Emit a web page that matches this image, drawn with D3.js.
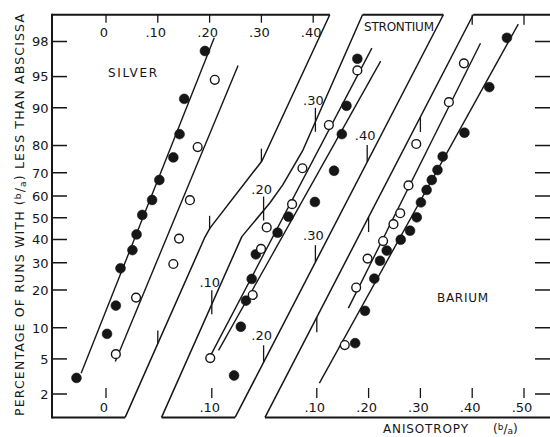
<!DOCTYPE html>
<html>
<head>
<meta charset="utf-8">
<script src="https://cdn.jsdelivr.net/npm/d3@7"></script>
<style>
  body { margin: 0; background: #fff; }
  text { font-family: "DejaVu Sans", sans-serif; fill: #161616; }
</style>
</head>
<body>
<div id="chart"></div>
<script>
var svgWidth = 550;
var svgHeight = 437;

// Percentage ticks on the probability axis
var yTicks = [2, 5, 10, 20, 30, 40, 50, 60, 70, 80, 90, 95, 98];

// Axis ticks (b/a) for each panel
var silverTopTicks = [0, 0.1, 0.2, 0.3, 0.4];
var silverBottomTicks = [0];
var srBottomTicks = [0.1];
var baBottomTicks = [0.1, 0.2, 0.3, 0.4, 0.5];
var baTopTicks = [0.4, 0.5];
var silverEdgeTicks = [0.1, 0.2, 0.3];
var srLeftTicks = [0.1, 0.2, 0.3];
var srRightTicks = [0.2, 0.3, 0.4];
var baLeftTicks = [0.1, 0.2, 0.3];

// Runs: [b/a, cumulative percent]
var silverFilled = [[-0.057, 3.1], [0.002, 8.8], [0.019, 15.3], [0.028, 27.8], [0.051, 35.3],
  [0.059, 42.3], [0.070, 51.3], [0.089, 58.2], [0.103, 67.0], [0.130, 75.9],
  [0.142, 83.5], [0.151, 91.7], [0.191, 97.4]];
var silverOpen = [[0.019, 5.6], [0.058, 17.6], [0.130, 29.5], [0.141, 40.4],
  [0.162, 58.1], [0.177, 79.5], [0.210, 94.6]];
var srFilled = [[0.143, 3.3], [0.156, 10.2], [0.166, 16.7], [0.177, 23.8], [0.185, 33.5],
  [0.227, 43.1], [0.248, 50.5], [0.299, 57.3], [0.336, 70.8], [0.351, 83.5],
  [0.360, 90.4], [0.381, 96.8]];
var srOpen = [[0.097, 5.1], [0.179, 18.4], [0.195, 35.8], [0.206, 45.5],
  [0.255, 56.3], [0.275, 71.8], [0.326, 86.0], [0.381, 95.7]];
var baFilled = [[0.174, 7.2], [0.193, 13.9], [0.211, 23.9], [0.222, 30.8], [0.235, 35.1],
  [0.262, 39.9], [0.280, 44.0], [0.293, 50.2], [0.301, 57.1], [0.312, 62.7],
  [0.322, 67.0], [0.333, 71.1], [0.343, 76.2], [0.385, 83.9], [0.433, 93.6], [0.467, 98.2]];
var baOpen = [[0.154, 6.9], [0.176, 20.8], [0.198, 31.7], [0.228, 39.3], [0.248, 47.0],
  [0.261, 52.1], [0.277, 64.7], [0.292, 80.5], [0.355, 91.1], [0.384, 96.4]];

// Fitted lines
var silverFilledFit = [[-0.048, 3.5], [0.209, 98.2]];
var silverOpenFit = [[0.018, 4.7], [0.255, 96.2]];
var srFilledFit = [[0.113, 6.1], [0.426, 96.6]];
var srOpenFit = [[0.095, 5.1], [0.409, 97.6]];
var baFilledFit = [[0.105, 2.7], [0.489, 98.8]];
var baOpenFit = [[0.161, 14.6], [0.416, 97.9]];

// Slanted panel edges
var silverEdge = [[0.432, 99.1], [0.301, 74.6], [0.201, 45.3], [0.191, 41.1], [0.037, 1.0]];
var srLeftEdge = [[0.391, 99.1], [0.276, 78.5], [0.237, 64.9], [0.212, 56.8], [0.158, 41.3], [0.003, 1.0]];
var srRightEdge = [[0.547, 99.1], [0.145, 1.0]];
var baLeftEdge = [[0.402, 99.1], [0.0, 1.0]];

var pTop = 99.1;
var pBottom = 1.0;
var axisX = 52;
var rightX = 551;
var ink = "#161616";

var svg = d3.select("#chart")
  .append("svg")
  .attr("width", svgWidth)
  .attr("height", svgHeight);

// inverse normal (Acklam)
function probit(p) {
  var a = [-3.969683028665376e+01, 2.209460984245205e+02, -2.759285104469687e+02, 1.383577518672690e+02, -3.066479806614716e+01, 2.506628277459239e+00];
  var b = [-5.447609879822406e+01, 1.615858368580409e+02, -1.556989798598866e+02, 6.680131188771972e+01, -1.328068155288572e+01];
  var c = [-7.784894002430293e-03, -3.223964580411365e-01, -2.400758277161838e+00, -2.549671348243250e+00, 4.374664141464968e+00, 2.938163982698783e+00];
  var d = [7.784695709041462e-03, 3.224671290700398e-01, 2.445134137142996e+00, 3.754408661907416e+00];
  var q, r;
  if (p < 0.02425) {
    q = Math.sqrt(-2 * Math.log(p));
    return (((((c[0] * q + c[1]) * q + c[2]) * q + c[3]) * q + c[4]) * q + c[5]) / ((((d[0] * q + d[1]) * q + d[2]) * q + d[3]) * q + 1);
  }
  if (p > 1 - 0.02425) {
    q = Math.sqrt(-2 * Math.log(1 - p));
    return -(((((c[0] * q + c[1]) * q + c[2]) * q + c[3]) * q + c[4]) * q + c[5]) / ((((d[0] * q + d[1]) * q + d[2]) * q + d[3]) * q + 1);
  }
  q = p - 0.5;
  r = q * q;
  return (((((a[0] * r + a[1]) * r + a[2]) * r + a[3]) * r + a[4]) * r + a[5]) * q / (((((b[0] * r + b[1]) * r + b[2]) * r + b[3]) * r + b[4]) * r + 1);
}

// Scales
var yZ = d3.scaleLinear().domain([probit(0.02), probit(0.98)]).range([394, 41.5]);
var y = function (p) { return yZ(probit(p / 100)); };
var xAg = d3.scaleLinear().domain([0, 0.4]).range([106, 313.2]);
var xSr = d3.scaleLinear().domain([0, 0.4]).range([160, 367.2]);
var xBa = d3.scaleLinear().domain([0, 0.5]).range([265, 524]);

var fmt = function (d) { return d === 0 ? "0" : d3.format(".2f")(d).replace(/^0/, ""); };

function seg(x1, y1, x2, y2, w) {
  svg.append("line")
    .attr("x1", x1).attr("y1", y1).attr("x2", x2).attr("y2", y2)
    .attr("stroke", ink).attr("stroke-width", w || 1.3);
}

function lineOf(xs) {
  return d3.line().x(d => xs(d[0])).y(d => y(d[1]));
}

function drawPath(data, xs, w) {
  svg.append("path")
    .datum(data)
    .attr("d", lineOf(xs))
    .attr("fill", "none")
    .attr("stroke", ink)
    .attr("stroke-width", w)
    .attr("stroke-linejoin", "round");
}

function yAt(pts, px) {
  for (var i = 0; i < pts.length - 1; i++) {
    var a = pts[i], b = pts[i + 1];
    if ((px - a[0]) * (px - b[0]) <= 0) {
      return a[1] + (b[1] - a[1]) * (px - a[0]) / (b[0] - a[0]);
    }
  }
  return null;
}

// ticks sitting on a slanted edge
function edgeTicks(edge, xs, values, up, down, labelGap) {
  var pts = edge.map(d => [xs(d[0]), y(d[1])]);
  values.forEach(function (v) {
    var px = xs(v), py = yAt(pts, px);
    seg(px, py - up, px, py + down, 1.3);
    if (labelGap != null) {
      svg.append("text")
        .attr("x", px - 2)
        .attr("y", py - labelGap)
        .attr("text-anchor", "middle")
        .style("font-size", "13px")
        .text(fmt(v));
    }
  });
}

// Frame: left axis, tops and bottoms
seg(axisX, y(pTop) - 1, axisX, y(pBottom) + 1, 2);
seg(axisX, y(pTop), xAg(silverEdge[0][0]), y(pTop), 2);
seg(xSr(srLeftEdge[0][0]), y(pTop), xSr(srRightEdge[0][0]), y(pTop), 2);
seg(xBa(baLeftEdge[0][0]), y(pTop), rightX, y(pTop), 2);
seg(axisX, y(pBottom), xAg(silverEdge[4][0]), y(pBottom), 2);
seg(xSr(srLeftEdge[5][0]), y(pBottom), xSr(srRightEdge[1][0]), y(pBottom), 2);
seg(xBa(baLeftEdge[1][0]), y(pBottom), rightX, y(pBottom), 2);

drawPath(silverEdge, xAg, 1.5);
drawPath(srLeftEdge, xSr, 1.5);
drawPath(srRightEdge, xSr, 1.5);
drawPath(baLeftEdge, xBa, 1.5);

// Probability axis, left and right
yTicks.forEach(function (p) {
  seg(axisX, y(p), axisX + 15, y(p), 1.5);
  seg(rightX - 16, y(p), rightX, y(p), 1.5);
  svg.append("text")
    .attr("x", 48.5)
    .attr("y", y(p) + 4.8)
    .attr("text-anchor", "end")
    .style("font-size", "13px")
    .text(p);
});

// Top ticks of silver scale
silverTopTicks.forEach(function (v) {
  seg(xAg(v), y(pTop), xAg(v), y(pTop) + 8, 1.3);
  svg.append("text")
    .attr("x", xAg(v) - 2)
    .attr("y", 37)
    .attr("text-anchor", "middle")
    .style("font-size", "13px")
    .text(fmt(v));
});
baTopTicks.forEach(function (v) {
  seg(xBa(v), y(pTop), xBa(v), y(pTop) + 10, 1.3);
});

// Bottom ticks
[[silverBottomTicks, xAg], [srBottomTicks, xSr], [baBottomTicks, xBa]].forEach(function (pair) {
  pair[0].forEach(function (v) {
    var px = pair[1](v);
    seg(px, 388, px, 398, 1.3);
    svg.append("text")
      .attr("x", px - 2)
      .attr("y", 411.5)
      .attr("text-anchor", "middle")
      .style("font-size", "13px")
      .text(fmt(v));
  });
});

// Ticks on the slanted edges
edgeTicks(silverEdge, xAg, silverEdgeTicks, 13, 0, null);
edgeTicks(srLeftEdge, xSr, srLeftTicks, 14, 10, 17);
edgeTicks(srRightEdge, xSr, srRightTicks, 17, 0, 22);
edgeTicks(baLeftEdge, xBa, baLeftTicks, 0, 15, null);

// Fitted lines
drawPath(silverFilledFit, xAg, 1.4);
drawPath(silverOpenFit, xAg, 1.4);
drawPath(srFilledFit, xSr, 1.4);
drawPath(srOpenFit, xSr, 1.4);
drawPath(baFilledFit, xBa, 1.4);
drawPath(baOpenFit, xBa, 1.4);

// Points
function drawDots(data, xs, filled) {
  svg.append("g")
    .selectAll("circle")
    .data(data)
    .enter()
    .append("circle")
    .attr("cx", d => xs(d[0]))
    .attr("cy", d => y(d[1]))
    .attr("r", filled ? 4.9 : 4.4)
    .attr("fill", filled ? ink : "#fff")
    .attr("stroke", ink)
    .attr("stroke-width", filled ? 0.6 : 1.4);
}
drawDots(silverFilled, xAg, true);
drawDots(silverOpen, xAg, false);
drawDots(srFilled, xSr, true);
drawDots(srOpen, xSr, false);
drawDots(baFilled, xBa, true);
drawDots(baOpen, xBa, false);

// Panel names
svg.append("text").attr("x", 108).attr("y", 77)
  .attr("textLength", 49).style("font-size", "12px").text("SILVER");
svg.append("text").attr("x", 364).attr("y", 31)
  .attr("textLength", 70).style("font-size", "12px").text("STRONTIUM");
svg.append("text").attr("x", 437).attr("y", 302)
  .attr("textLength", 51).style("font-size", "12px").text("BARIUM");

// Axis titles
var xTitle = svg.append("text")
  .attr("x", 383)
  .attr("y", 433)
  .style("font-size", "12px");
xTitle.append("tspan").attr("textLength", 85).text("ANISOTROPY");
xTitle.append("tspan").attr("x", 493).text("(");
xTitle.append("tspan").attr("dy", -3).style("font-size", "9px").text("b");
xTitle.append("tspan").attr("dy", 3).text("/");
xTitle.append("tspan").attr("dy", 1).style("font-size", "9px").text("a");
xTitle.append("tspan").attr("dy", -1).text(")");

var yTitle = svg.append("text")
  .attr("transform", "translate(23.5, 215) rotate(-90)")
  .attr("text-anchor", "middle")
  .attr("textLength", 402)
  .attr("lengthAdjust", "spacing")
  .style("font-size", "12.5px");
yTitle.append("tspan").text("PERCENTAGE OF RUNS WITH (");
yTitle.append("tspan").attr("dy", -3).style("font-size", "9px").text("b");
yTitle.append("tspan").attr("dy", 3).text("/");
yTitle.append("tspan").attr("dy", 2).style("font-size", "9px").text("a");
yTitle.append("tspan").attr("dy", -2).text(") LESS THAN ABSCISSA");
</script>
</body>
</html>
